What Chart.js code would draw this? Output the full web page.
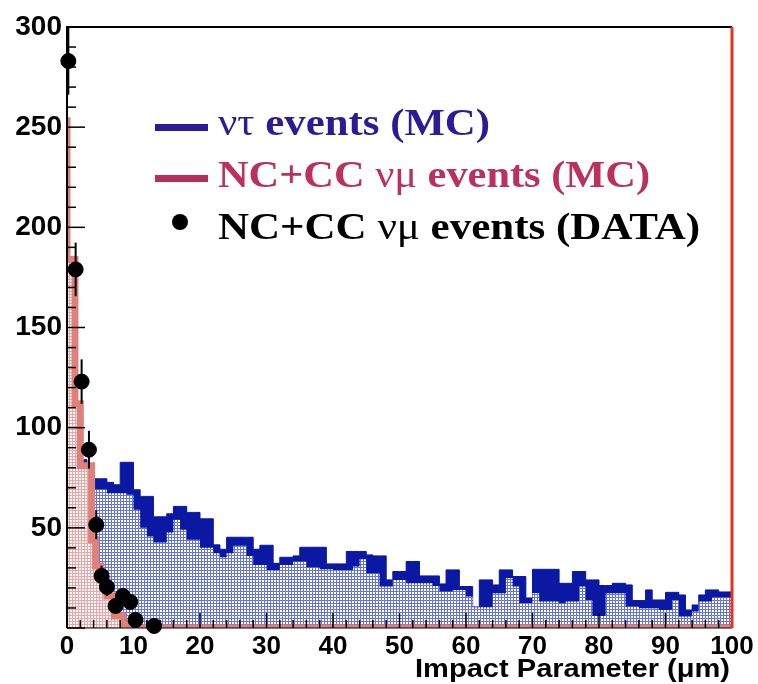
<!DOCTYPE html>
<html>
<head>
<meta charset="utf-8">
<script src="https://cdn.jsdelivr.net/npm/chart.js@4.4.0/dist/chart.umd.min.js"></script>
<style>
  html, body { margin: 0; padding: 0; background: #fff; }
  #wrap { width: 758px; height: 684px; }
</style>
</head>
<body>
<div id="wrap"><canvas id="ip"></canvas></div>
<script>
// nu-tau MC, 1 um bins from 0 to 100 (solid part = top envelope)
const tauTop = [80, 80, 80, 84, 72.5, 74.5, 74.5, 72.7, 71.5, 82.7,
    82.7, 69, 65.7, 65.7, 55.5, 55.5, 57, 60.7, 60.7, 57.7,
    57.7, 54.5, 54.5, 41.5, 39.3, 45.3, 45.3, 45.3, 45.3, 39.3,
    41.3, 41.3, 32.3, 35.3, 35.3, 36, 40.3, 40.3, 40.3, 40.3,
    32, 32, 32, 38.2, 38.2, 38.2, 36.5, 36, 36, 24,
    28.2, 28.2, 33.2, 33.2, 26, 26, 26, 22, 29, 29,
    20.7, 20.7, 10.5, 24, 24, 21.5, 29, 29, 25.7, 25.7,
    15, 29.3, 29.3, 29.3, 29.3, 22.3, 22.3, 28.2, 28.2, 24,
    24, 21.2, 21.2, 22.3, 22.3, 21.5, 13.7, 13.7, 19, 14,
    14, 17.8, 17.8, 16.5, 9, 11.5, 16.5, 19, 19, 18];
// dotted part (lower envelope)
const tauDots = [78, 78, 78, 78, 68.2, 69.3, 69.3, 67.3, 67.3, 67.3,
    66.5, 59, 50, 45.7, 42.7, 42.7, 47.7, 54, 49, 44,
    44, 40, 40, 37.3, 35.3, 37.3, 41, 41, 36, 31.5,
    31.5, 29, 29, 31.5, 31.5, 33.2, 33.2, 30.3, 30.3, 29.3,
    29.3, 29, 29, 29, 30.7, 34.3, 27.3, 27.3, 20.7, 20.7,
    24, 24, 22.3, 22.3, 22.3, 22.3, 21, 18.2, 18.2, 19,
    19, 15.7, 10.3, 10.3, 10.3, 17.3, 17.3, 25, 20.7, 12.5,
    12.5, 17.5, 13.2, 13.2, 13.2, 12.3, 13.2, 13.2, 20.7, 14,
    6, 6, 17.3, 17.3, 17.3, 10.7, 10.7, 9.8, 9.8, 9.8,
    9, 9, 14, 5.7, 5.7, 8.2, 13.2, 13.2, 15.3, 15.3];

// nu-mu MC (step edges and heights)
const muEdges = [0, 1.2, 2.0, 3.7, 4.3, 5.1, 6.0, 7.1, 8.4, 9.5, 10.6, 100];
const muMC = [255, 184, 112, 81, 44, 31, 24, 16, 6, 2, 0, 0];

// nu-mu data points
const dataX = [0.2, 1.3, 2.2, 3.3, 4.4, 5.2, 6.0, 7.3, 8.4, 9.5, 10.3, 13.1];
const dataY = [283, 179, 123, 89, 51.5, 26, 20.5, 11, 16, 13, 4, 1];

const xTicks = [0, 10, 20, 30, 40, 50, 60, 70, 80, 90, 100];
const yTicks = [50, 100, 150, 200, 250, 300];

function steps(vals, edges) {
    const pts = vals.map((v, i) => ({ x: edges ? edges[i] : i, y: v }));
    if (!edges) pts.push({ x: vals.length, y: vals[vals.length - 1] });
    return pts;
}

function dots(col) {
    const c = document.createElement('canvas');
    c.width = 3; c.height = 3;
    const g = c.getContext('2d');
    g.fillStyle = '#fff';
    g.fillRect(0, 0, 3, 3);
    g.fillStyle = col;
    g.fillRect(0, 0, 3, 1);
    g.fillRect(0, 0, 1, 3);
    return g.createPattern(c, 'repeat');
}

function fitText(ctx, segs, x, y, w, size, family) {
    let tot = 0;
    segs.forEach(s => {
        ctx.font = (s.bold ? 'bold ' : '') + size + 'px ' + family;
        tot += ctx.measureText(s.t).width;
    });
    ctx.save();
    ctx.translate(x, y);
    ctx.scale(w / tot, 1);
    ctx.textBaseline = 'alphabetic';
    ctx.textAlign = 'left';
    let cx = 0;
    segs.forEach(s => {
        ctx.font = (s.bold ? 'bold ' : '') + size + 'px ' + family;
        ctx.fillStyle = s.c;
        ctx.fillText(s.t, cx, 0);
        cx += ctx.measureText(s.t).width;
    });
    ctx.restore();
}

const deco = {
    id: 'deco',
    afterDatasetsDraw(chart) {
        const ctx = chart.ctx;
        const xs = chart.scales.x, ys = chart.scales.y;
        const a = chart.chartArea;
        ctx.save();
        // error bars
        ctx.strokeStyle = '#000';
        ctx.lineWidth = 2;
        dataX.forEach((x, i) => {
            const e = Math.sqrt(dataY[i]);
            ctx.beginPath();
            ctx.moveTo(xs.getPixelForValue(x), ys.getPixelForValue(dataY[i] - e));
            ctx.lineTo(xs.getPixelForValue(x), ys.getPixelForValue(Math.min(dataY[i] + e, 300)));
            ctx.stroke();
        });
        // ticks inside the frame
        ctx.lineWidth = 1.5;
        for (let v = 0; v <= 300; v += 10) {
            const y = ys.getPixelForValue(v);
            const len = v % 50 === 0 ? 18 : 9;
            ctx.beginPath();
            ctx.moveTo(a.left, y);
            ctx.lineTo(a.left + len, y);
            ctx.stroke();
        }
        for (let v = 0; v <= 100; v += 2) {
            const x = xs.getPixelForValue(v);
            const len = v % 10 === 0 ? 15 : 8;
            ctx.beginPath();
            ctx.moveTo(x, a.bottom);
            ctx.lineTo(x, a.bottom - len);
            ctx.stroke();
        }
        // frame
        ctx.lineWidth = 2;
        ctx.beginPath();
        ctx.moveTo(a.left, a.bottom);
        ctx.lineTo(a.left, a.top);
        ctx.lineTo(a.right, a.top);
        ctx.stroke();
        ctx.lineWidth = 1;
        ctx.beginPath();
        ctx.moveTo(a.left, a.bottom);
        ctx.lineTo(a.right, a.bottom);
        ctx.stroke();
        ctx.strokeStyle = '#e8321e';
        ctx.lineWidth = 3;
        ctx.beginPath();
        ctx.moveTo(a.right, a.top);
        ctx.lineTo(a.right, a.bottom);
        ctx.stroke();
        ctx.restore();
    },
    afterDraw(chart) {
        const ctx = chart.ctx;
        ctx.save();
        // legend
        ctx.fillStyle = '#2d1a96';
        ctx.fillRect(155, 124, 53, 7);
        ctx.fillStyle = '#b82d5a';
        ctx.fillRect(155, 175, 53, 7);
        ctx.fillStyle = '#000';
        ctx.beginPath();
        ctx.arc(180, 222, 8, 0, Math.PI * 2);
        ctx.fill();
        const serif = '"Liberation Serif", "DejaVu Serif", serif';
        fitText(ctx, [{ t: 'ντ', c: '#2d1a96' }, { t: ' events (MC)', bold: true, c: '#2d1a96' }],
            218, 135, 272, 37, serif);
        fitText(ctx, [{ t: 'NC+CC ', bold: true, c: '#bd2f5c' }, { t: 'νμ', c: '#bd2f5c' }, { t: ' events (MC)', bold: true, c: '#bd2f5c' }],
            218, 187, 432, 37, serif);
        fitText(ctx, [{ t: 'NC+CC ', bold: true, c: '#000' }, { t: 'νμ', c: '#000' }, { t: ' events (DATA)', bold: true, c: '#000' }],
            218, 239, 482, 37, serif);
        // x axis title
        fitText(ctx, [{ t: 'Impact Parameter (μm)', bold: true, c: '#000' }],
            415, 677, 315, 25, '"Liberation Sans", Arial, sans-serif');
        ctx.restore();
    }
};

new Chart(document.getElementById('ip'), {
    type: 'line',
    data: {
        datasets: [
            {
                label: 'tau solid',
                order: 4,
                data: steps(tauTop),
                stepped: 'after',
                borderColor: '#0a18a4',
                borderWidth: 1,
                backgroundColor: '#0a18a4',
                fill: 'origin',
                pointRadius: 0,
            },
            {
                label: 'tau dots',
                order: 3,
                data: steps(tauDots),
                stepped: 'after',
                borderWidth: 0,
                borderColor: 'rgba(0,0,0,0)',
                backgroundColor: dots('#6474e0'),
                fill: 'origin',
                pointRadius: 0,
            },
            {
                label: 'mu MC',
                order: 2,
                data: steps(muMC, muEdges),
                stepped: 'after',
                borderColor: '#e0807a',
                borderWidth: 7,
                backgroundColor: dots('#f0a4a4'),
                fill: 'origin',
                pointRadius: 0,
            },
            {
                type: 'scatter',
                label: 'mu data',
                order: 1,
                data: dataX.map((x, i) => ({ x: x, y: dataY[i] })),
                pointRadius: 7.5,
                pointBackgroundColor: '#000',
                pointBorderColor: '#000',
                showLine: false,
                clip: false,
            },
        ],
    },
    options: {
        responsive: true,
        maintainAspectRatio: false,
        animation: false,
        layout: { padding: { top: 27, right: 26, left: 0, bottom: 0 } },
        plugins: {
            legend: { display: false },
            tooltip: { enabled: false },
        },
        scales: {
            x: {
                type: 'linear',
                min: 0,
                max: 100,
                afterFit: s => { s.height = 56; },
                afterBuildTicks: s => { s.ticks = xTicks.map(v => ({ value: v })); },
                grid: { display: false, drawTicks: false },
                border: { display: false },
                ticks: {
                    padding: 3,
                    color: '#000',
                    font: { family: '"Liberation Sans", Arial, sans-serif', size: 26, weight: 'bold' },
                    maxRotation: 0,
                },
            },
            y: {
                min: 0,
                max: 300,
                afterFit: s => { s.width = 67; },
                afterBuildTicks: s => { s.ticks = yTicks.map(v => ({ value: v })); },
                grid: { display: false, drawTicks: false },
                border: { display: false },
                ticks: {
                    padding: 5,
                    color: '#000',
                    font: { family: '"Liberation Sans", Arial, sans-serif', size: 28, weight: 'bold' },
                },
            },
        },
    },
    plugins: [deco],
});
</script>
</body>
</html>
